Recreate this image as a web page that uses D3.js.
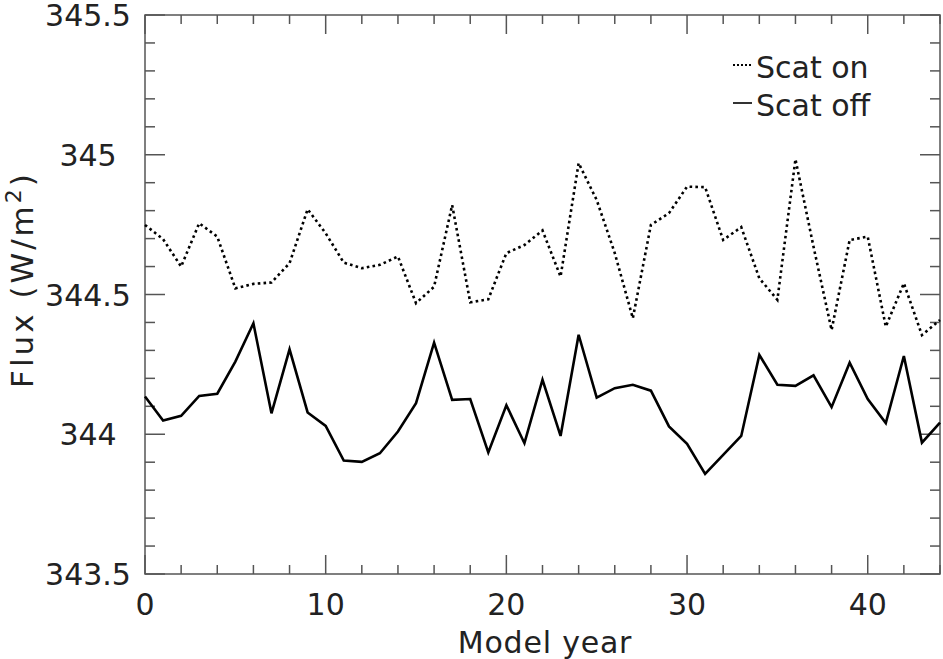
<!DOCTYPE html>
<html>
<head>
<meta charset="utf-8">
<script src="https://cdn.jsdelivr.net/npm/d3@7"></script>
<style>
  body { margin: 0; background: #fff; }
  text { font-family: 'DejaVu Sans', sans-serif; fill: #222; }
</style>
</head>
<body>
<svg id="chart" width="943" height="659"></svg>
<script>
const years = d3.range(0, 45)
const scatOn = [
  344.749, 344.698, 344.60, 344.755, 344.707, 344.522, 344.538, 344.543, 344.612, 344.805,
  344.719, 344.614, 344.594, 344.606, 344.636, 344.469, 344.528, 344.820, 344.472, 344.483,
  344.648, 344.677, 344.729, 344.564, 344.970, 344.838, 344.648, 344.415, 344.749, 344.791,
  344.886, 344.884, 344.695, 344.741, 344.558, 344.481, 344.984, 344.671, 344.373, 344.695,
  344.707, 344.385, 344.540, 344.355, 344.409,
]
const scatOff = [
  344.135, 344.049, 344.066, 344.137, 344.145, 344.260, 344.397, 344.075, 344.304, 344.078,
  344.030, 343.906, 343.901, 343.932, 344.010, 344.111, 344.328, 344.123, 344.126, 343.935,
  344.104, 343.968, 344.195, 343.994, 344.356, 344.131, 344.165, 344.177, 344.156, 344.028,
  343.966, 343.858, 343.926, 343.994, 344.284, 344.177, 344.173, 344.211, 344.097, 344.256,
  344.126, 344.040, 344.280, 343.970, 344.042,
]
const xTicks = [0, 10, 20, 30, 40]
const yTicks = [343.5, 344, 344.5, 345, 345.5]
const yTickLabels = ['343.5', '344', '344.5', '345', '345.5']
const seriesNames = ['Scat on', 'Scat off']

const margin = { top: 15, right: 3, bottom: 85, left: 145 },
  w = 943 - margin.left - margin.right,
  h = 659 - margin.top - margin.bottom

const svg = d3.select('#chart')
  .append('g')
  .attr('transform', `translate(${margin.left},${margin.top})`)

const x = d3.scaleLinear().domain([0, 44]).range([0, w])
const y = d3.scaleLinear().domain([343.5, 345.5]).range([h, 0])

const axisColor = '#555'
const minorX = d3.range(0, 45, 2).filter((d) => d % 10 !== 0)
const minorY = d3.range(0, 21).map((i) => 343.5 + i * 0.1).filter((d, i) => i % 5 !== 0)

// frame
svg.append('rect')
  .attr('width', w).attr('height', h)
  .attr('fill', 'none').attr('stroke', axisColor).attr('stroke-width', 1.5)

// ticks on all four sides
const tickG = svg.append('g').attr('stroke', axisColor).attr('stroke-width', 1.5)
for (const d of xTicks.concat(minorX)) {
  const len = xTicks.includes(d) ? 19 : 9
  tickG.append('line').attr('x1', x(d)).attr('x2', x(d)).attr('y1', h).attr('y2', h - len)
  tickG.append('line').attr('x1', x(d)).attr('x2', x(d)).attr('y1', 0).attr('y2', len)
}
for (const d of yTicks.concat(minorY)) {
  const len = yTicks.includes(d) ? 20 : 10
  tickG.append('line').attr('y1', y(d)).attr('y2', y(d)).attr('x1', 0).attr('x2', len)
  tickG.append('line').attr('y1', y(d)).attr('y2', y(d)).attr('x1', w).attr('x2', w - len)
}

// tick labels
svg.selectAll('.xlab').data(xTicks).enter().append('text')
  .attr('x', (d) => x(d)).attr('y', h + 41)
  .attr('text-anchor', 'middle').attr('font-size', 30)
  .text((d) => d)
svg.selectAll('.ylab').data(yTicks).enter().append('text')
  .attr('x', -57).attr('y', (d) => y(d) + 11)
  .attr('text-anchor', 'middle').attr('font-size', 30)
  .text((d, i) => yTickLabels[i])

// axis titles
svg.append('text')
  .attr('x', 400).attr('y', h + 79)
  .attr('text-anchor', 'middle').attr('font-size', 30)
  .attr('letter-spacing', 0.8)
  .text('Model year')
const yt = svg.append('text')
  .attr('transform', `translate(${-112},${y(344.5) - 15}) rotate(-90)`)
  .attr('text-anchor', 'middle').attr('font-size', 31)
  .attr('letter-spacing', 3)
yt.append('tspan').text('Flux (W/m')
yt.append('tspan').attr('dy', -12).attr('font-size', 22).text('2')
yt.append('tspan').attr('dy', 12).text(')')

// lines
const line = d3.line().x((d, i) => x(years[i])).y((d) => y(d))
svg.append('path').datum(scatOn)
  .attr('fill', 'none').attr('stroke', '#000').attr('stroke-width', 2.6)
  .attr('stroke-dasharray', '2.6,3.2')
  .attr('d', line)
svg.append('path').datum(scatOff)
  .attr('fill', 'none').attr('stroke', '#000').attr('stroke-width', 2.6)
  .attr('d', line)

// legend
const lg = svg.append('g').attr('transform', `translate(${733 - margin.left},0)`)
seriesNames.forEach((name, i) => {
  const ly = 68 + i * 38 - margin.top
  lg.append('line')
    .attr('x1', 0).attr('x2', 19).attr('y1', ly - 3).attr('y2', ly - 3)
    .attr('stroke', '#000').attr('stroke-width', i === 0 ? 2 : 1.6)
    .attr('stroke-dasharray', i === 0 ? '2,2' : null)
  lg.append('text')
    .attr('x', 23).attr('y', ly + 10)
    .attr('font-size', 30)
    .text(name)
})
</script>
</body>
</html>
